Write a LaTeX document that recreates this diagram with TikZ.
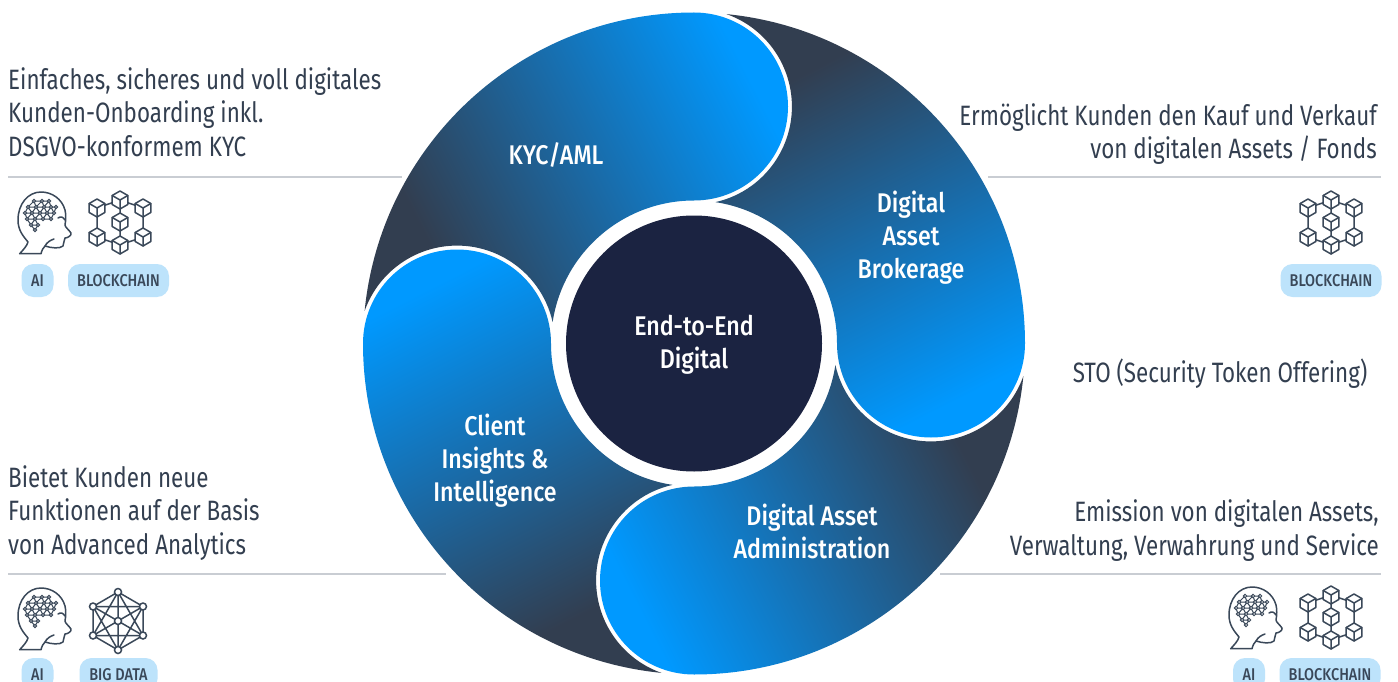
\documentclass[tikz,border=0pt]{standalone}
\usepackage{fontspec}
\setmainfont[FakeStretch=0.80]{Fira Sans}
\newfontfamily\tagfont[FakeStretch=0.85]{Fira Sans Medium}
\newfontfamily\labelfont[FakeStretch=0.86]{Fira Sans Medium}
\definecolor{ink}{HTML}{333F50}
\definecolor{iconink}{HTML}{3A4859}
\definecolor{pillblue}{HTML}{BDE3FB}
\definecolor{corecol}{HTML}{1B2341}
\definecolor{rulecol}{HTML}{C9CDD3}
\pgfdeclarehorizontalshading{bladeshade}{100bp}{rgb(0bp)=(.196,.243,.314);rgb(39.5bp)=(.196,.243,.314);rgb(50bp)=(.10,.42,.66);rgb(60.5bp)=(0,.6,1);rgb(100bp)=(0,.6,1)}
\tikzset{
  x=1pt,y=1pt,
  bodytext/.style={font=\fontsize{28}{33.5}\selectfont,text=ink,inner sep=0pt},
  bladetext/.style={font=\labelfont\fontsize{27}{33}\selectfont,text=white,align=center,inner sep=0pt},
  pilltag/.style={fill=pillblue,rounded corners=12pt,minimum height=33pt,inner sep=0pt,
     font=\tagfont\fontsize{17}{17}\selectfont,text=iconink},
  hrule/.style={draw=rulecol,line width=1.6pt},
  iconline/.style={draw=iconink,line width=1.5pt,line join=round,line cap=round},
}
\newcommand{\bladeoutline}{(174.32:331pt) arc[start angle=174.32,end angle=90,radius=331pt]
  arc[start angle=90,end angle=-90,radius=94pt]
  arc[start angle=90,end angle=171.37,radius=143pt]
  arc[start angle=12.7,end angle=160.5,radius=98pt] -- cycle}
\newcommand{\bladeat}[4]{% turn, gradient centre x, y, angle
  \begin{scope}
    \clip[shift={(694,-343.5)},rotate=#1] \bladeoutline;
    \shade[shading=bladeshade,shading angle=#4] (#2-430,-#3-430) rectangle (#2+430,-#3+430);
  \end{scope}}
\newcommand{\headicon}[2]{%
  \begin{scope}[shift={(#1,-#2)},y=-1pt]
    \draw[iconline] (1.7,61.7) -- (23,61.7) .. controls (24,58) and (25,56) .. (27,54)
      .. controls (33,56) and (42,57) .. (45,54) .. controls (46,51) and (46,48) .. (47,46)
      .. controls (50,46) and (54,43) .. (53,41) .. controls (51,38) and (47,35) .. (47,33)
      .. controls (48,28) and (48,22) .. (47,18) .. controls (44,7) and (34,0) .. (23,0)
      .. controls (10,0) and (0,12) .. (0,28) .. controls (0,38) and (5,44) .. (10,50)
      .. controls (9,54) and (5,58) .. (1.7,61.7);
    \draw[iconline,line width=1pt] (16,9)--(10,15)--(18,15)--(16,9)--(24,9)--(18,15)--(26,15)--(24,9)--(31,9)--(26,15)--(33,15)--(31,9)
      (33,15)--(38,15) (10,15)--(7,21)--(14,21)--(10,15) (14,21)--(18,15)--(22,21)--(14,21)
      (22,21)--(26,15)--(29,21)--(22,21) (29,21)--(33,15)--(36,21)--(29,21) (36,21)--(38,15)
      (7,21)--(9,27)--(14,21)--(17,27)--(9,27) (17,27)--(22,21)--(25,27)--(17,27)
      (25,27)--(29,21)--(33,27)--(25,27) (33,27)--(36,21)
      (9,27)--(13,33)--(17,27)--(20,33)--(13,33) (20,33)--(17,38)--(13,33);
    \foreach \p in {(16,9),(24,9),(31,9),(10,15),(18,15),(26,15),(33,15),(38,15),(7,21),(14,21),(22,21),(29,21),(36,21),(9,27),(17,27),(25,27),(33,27),(13,33),(20,33),(17,38)}
      \filldraw[fill=white,draw=iconink,line width=1pt] \p circle[radius=1.7pt];
    \draw[iconline] (40,26) .. controls (43,24) and (45,25) .. (47,28);
    \draw[iconline] (27,54) .. controls (29,50) and (33,48) .. (36,47);
  \end{scope}}
\newcommand{\cubeicon}[2]{%
  \begin{scope}[shift={(#1,#2)}]
    \filldraw[fill=white,draw=iconink,line width=1.5pt,line join=round] (90:9pt)--(30:9pt)--(-30:9pt)--(-90:9pt)--(-150:9pt)--(150:9pt)--cycle;
    \draw[iconline] (150:9pt)--(0,0)--(30:9pt) (0,0)--(-90:9pt);
  \end{scope}}
\newcommand{\chainicon}[2]{%
  \begin{scope}[shift={(#1,-#2)}]
    \draw[iconline] (0,22)--(-23,14)--(-23,-15)--(0,-23)--(23,-15)--(23,14)--cycle (0,22)--(0,-23);
    \cubeicon{0}{22}\cubeicon{-23}{14}\cubeicon{23}{14}\cubeicon{0}{0}\cubeicon{-23}{-15}\cubeicon{23}{-15}\cubeicon{0}{-23}
  \end{scope}}
\newcommand{\dataicon}[2]{%
  \begin{scope}[shift={(#1,-#2)}]
    \draw[iconline] (0,29)--(25,14.5)--(25,-14.5)--(0,-29)--(-25,-14.5)--(-25,14.5)--cycle
      (0,29)--(25,-14.5)--(-25,-14.5)--cycle (0,-29)--(25,14.5)--(-25,14.5)--cycle
      (0,29)--(0,-29) (25,14.5)--(-25,-14.5) (25,-14.5)--(-25,14.5);
    \foreach \p in {(0,29),(25,14.5),(25,-14.5),(0,-29),(-25,-14.5),(-25,14.5),(0,0)}
      \filldraw[fill=white,draw=iconink,line width=1.5pt] \p circle[radius=3.5pt];
  \end{scope}}
\begin{document}
\begin{tikzpicture}
\clip (0,0) rectangle (1398,-682);
\fill[white] (0,0) rectangle (1398,-682);
% blades
\bladeat{0}{597}{176}{27}
\bladeat{-90}{861.5}{246.5}{-63}
\bladeat{-180}{791}{511}{-153}
\bladeat{-270}{526.5}{440.5}{117}
\node[circle,fill=corecol,minimum size=256pt,inner sep=0pt] (core) at (694,-343.5) {};
% labels on the wheel
\node[bladetext] (kyc) at (556,-155) {KYC/AML};
\node[bladetext] (broker) at (911,-237.5) {Digital\\Asset\\Brokerage};
\node[bladetext] (admin) at (812,-531) {Digital Asset\\Administration};
\node[bladetext] (client) at (495,-461) {Client\\Insights \&\\Intelligence};
\node[bladetext] (coretext) at (694,-345) {End-to-End\\Digital};
% side texts
\node[bodytext,anchor=west,align=left] (tl) at (8,-112) {Einfaches, sicheres und voll digitales\\Kunden-Onboarding inkl.\\DSGVO-konformem KYC};
\node[bodytext,anchor=west,align=left] (bl) at (8,-513) {Bietet Kunden neue\\Funktionen auf der Basis\\von Advanced Analytics};
\node[bodytext,anchor=east,align=right] (tr) at (1377,-134) {Ermöglicht Kunden den Kauf und Verkauf\\von digitalen Assets / Fonds};
\node[bodytext] (sto) at (1220,-374) {STO (Security Token Offering)};
\node[bodytext,anchor=east,align=right] (br) at (1379,-530.5) {Emission von digitalen Assets,\\Verwaltung, Verwahrung und Service};
% rules
\draw[hrule] (8,-177) -- (402,-177);
\draw[hrule] (988,-177) -- (1381,-177);
\draw[hrule] (8,-574) -- (446,-574);
\draw[hrule] (940,-574) -- (1381,-574);
% icons
\headicon{18}{192}
\chainicon{120}{222}
\node[pilltag,minimum width=32pt] (ai1) at (37.5,-280.5) {AI};
\node[pilltag,minimum width=101pt] (bc1) at (118.5,-280.5) {BLOCKCHAIN};
\chainicon{1331}{222}
\node[pilltag,minimum width=101pt] (bc2) at (1331,-280.5) {BLOCKCHAIN};
\headicon{18}{588}
\dataicon{118}{621}
\node[pilltag,minimum width=32pt] (ai2) at (37.5,-674.5) {AI};
\node[pilltag,minimum width=78pt] (bd) at (118.5,-674.5) {BIG DATA};
\headicon{1229}{587}
\chainicon{1331}{617}
\node[pilltag,minimum width=32pt] (ai3) at (1249,-674.5) {AI};
\node[pilltag,minimum width=101pt] (bc3) at (1330,-674.5) {BLOCKCHAIN};
\end{tikzpicture}
\end{document}
